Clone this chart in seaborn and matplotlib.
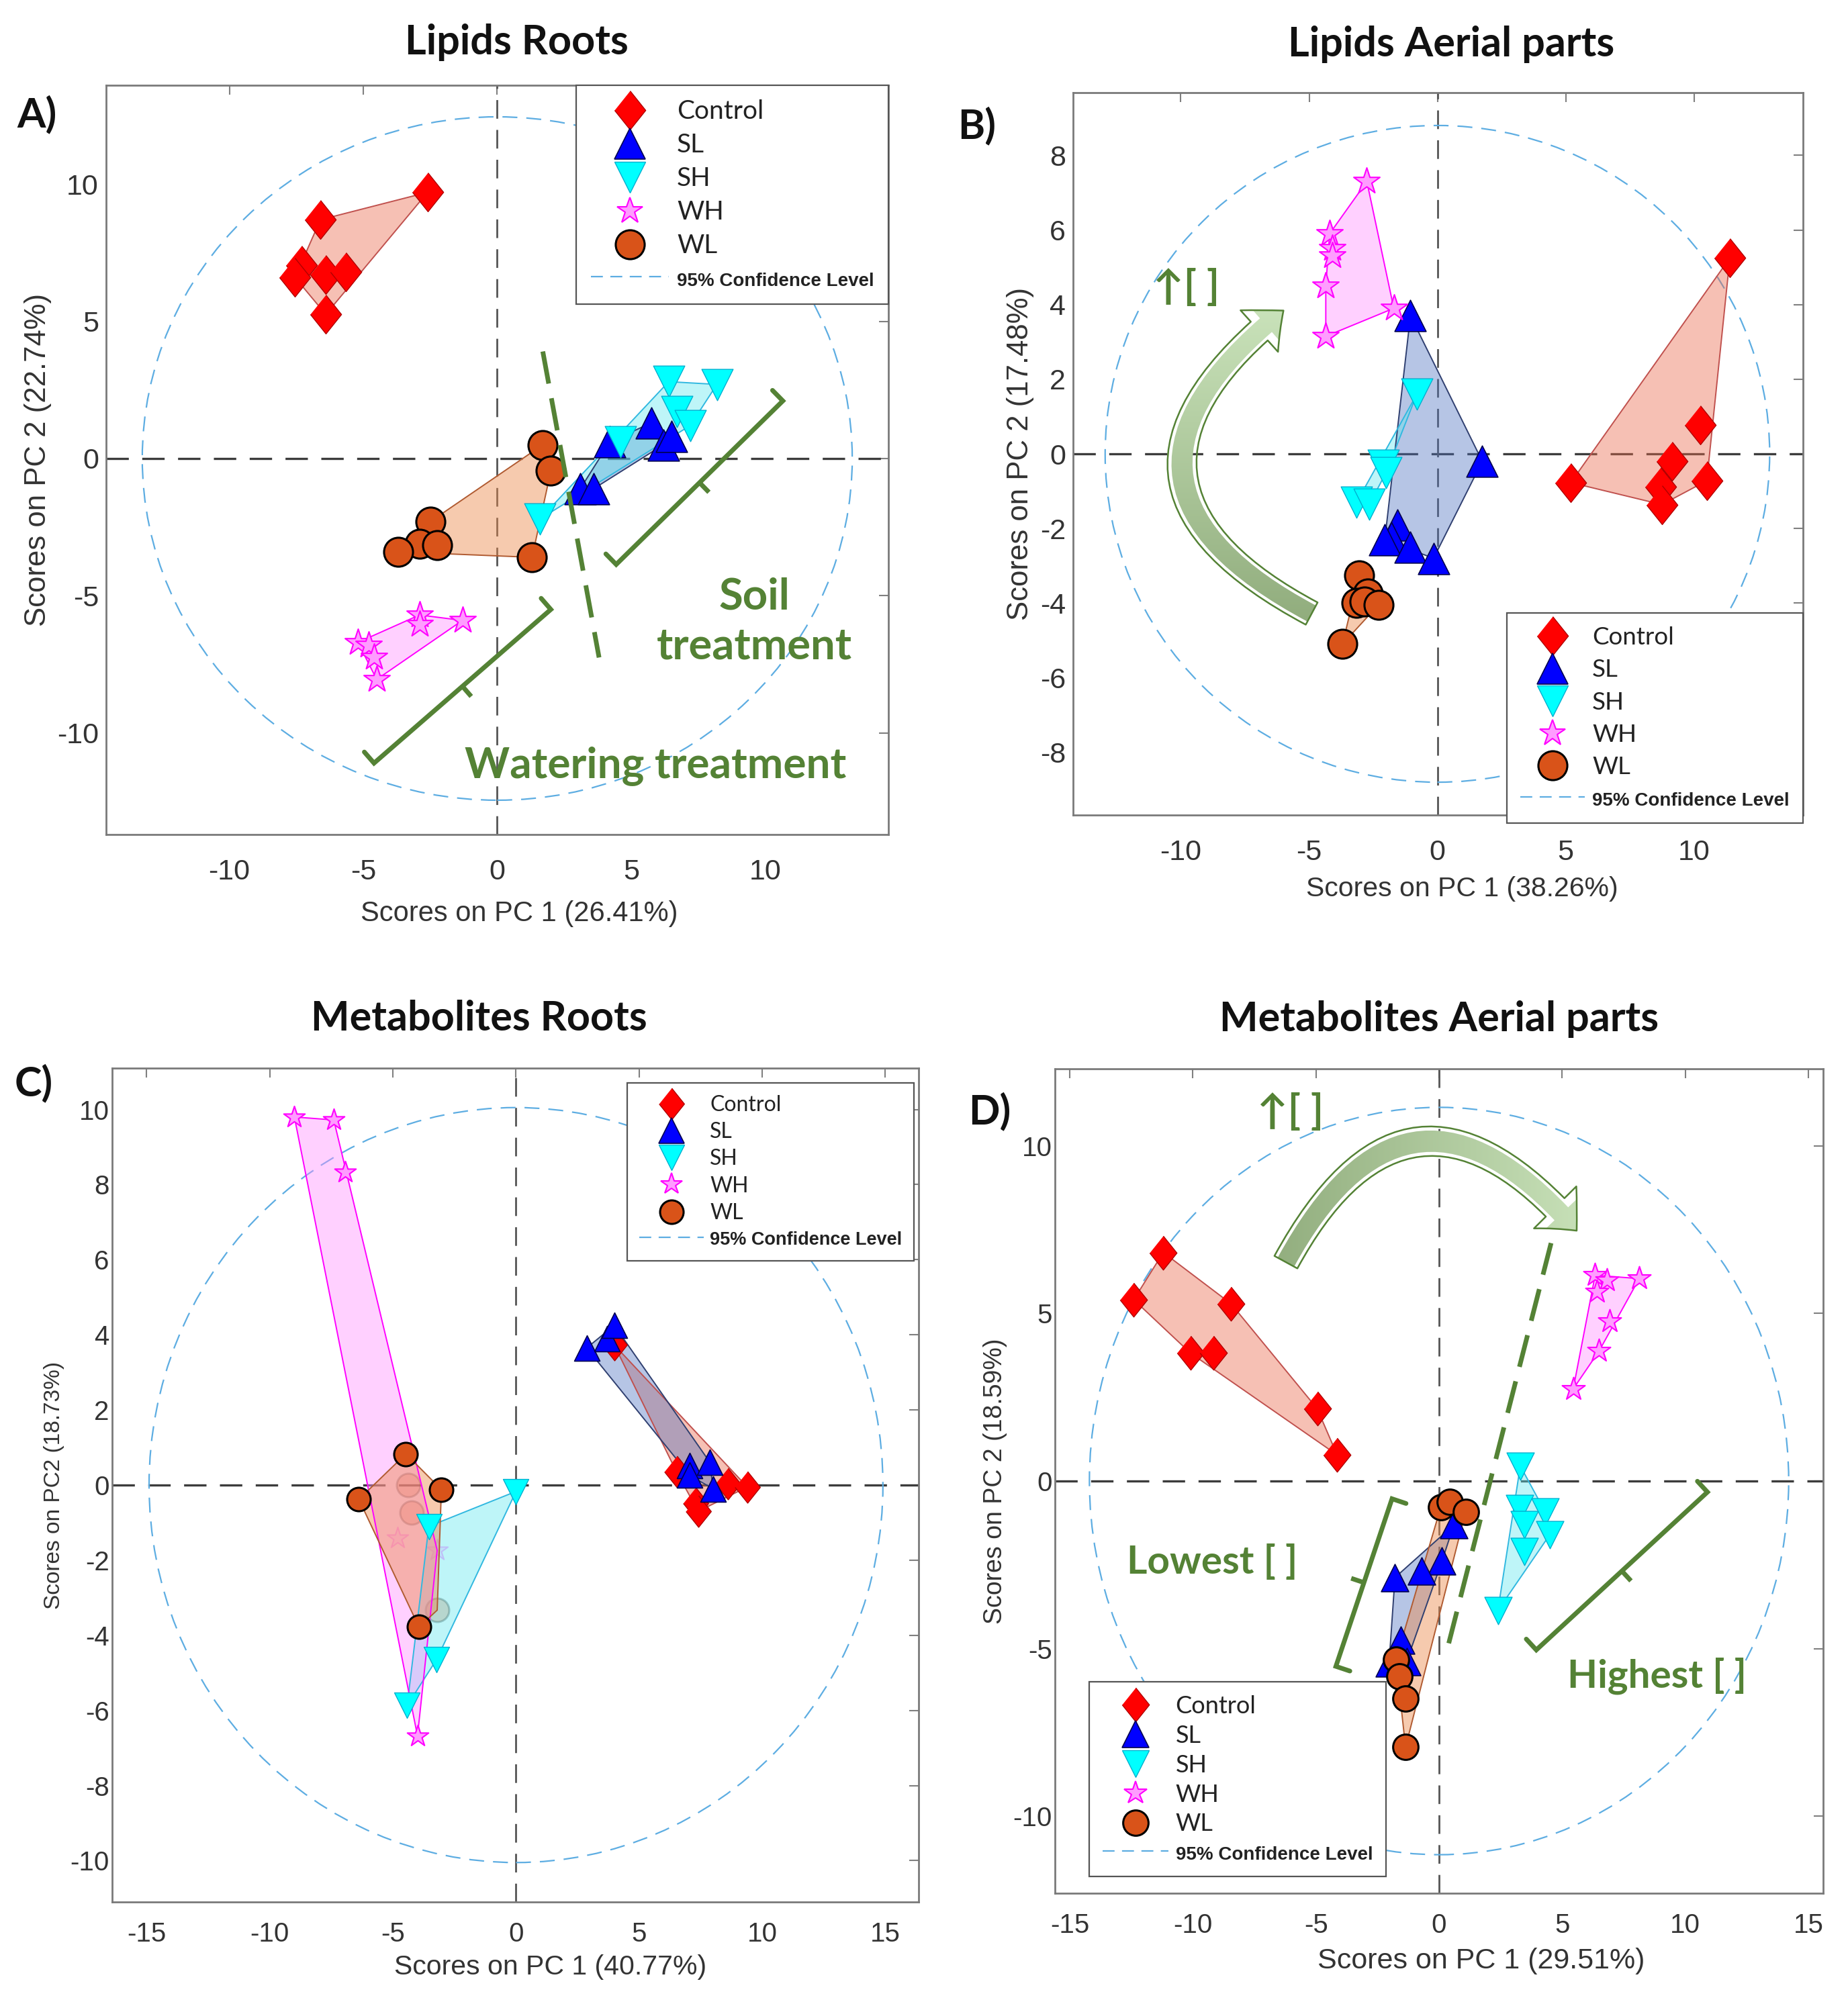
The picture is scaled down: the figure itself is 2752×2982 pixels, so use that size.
import numpy as np
import pandas as pd
import seaborn as sns
import matplotlib.pyplot as plt
from matplotlib.lines import Line2D
from matplotlib.patches import Ellipse, FancyArrowPatch
from matplotlib.colors import LinearSegmentedColormap

groups = ["Control", "SL", "SH", "WH", "WL"]

# A) Lipids Roots  (PC1, PC2 scores)
a_control = [(-2.6, 9.7), (-6.6, 8.7), (-7.3, 7.05), (-7.55, 6.6), (-6.4, 6.7), (-5.65, 6.8), (-6.4, 5.25)]
a_sl = [(3.1, -1.1), (3.6, -1.1), (4.2, 0.6), (5.75, 1.3), (6.2, 0.5), (6.5, 0.8)]
a_sh = [(1.6, -2.2), (4.6, 0.6), (6.4, 2.8), (8.2, 2.7), (6.7, 1.7), (7.2, 1.2)]
a_wh = [(-5.2, -6.7), (-4.8, -6.8), (-4.6, -7.25), (-4.5, -8.05), (-2.9, -5.7), (-2.9, -6.05), (-1.3, -5.9)]
a_wl = [(1.7, 0.5), (2.0, -0.45), (-2.5, -2.3), (-2.9, -3.1), (-2.25, -3.15), (-3.7, -3.4), (1.3, -3.6)]

# B) Lipids Aerial parts
b_control = [(11.4, 5.25), (10.25, 0.77), (9.15, -0.2), (10.5, -0.72), (5.2, -0.77), (8.7, -0.88), (8.75, -1.36)]
b_sl = [(-1.05, 3.7), (1.75, -0.2), (-1.55, -1.9), (-1.8, -2.25), (-2.05, -2.3), (-1.05, -2.5), (-0.15, -2.8)]
b_sh = [(-0.8, 1.6), (-2.1, -0.3), (-2.0, -0.5), (-3.15, -1.3), (-2.65, -1.35)]
b_wh = [(-2.75, 7.3), (-4.2, 5.9), (-4.1, 5.5), (-4.1, 5.3), (-4.35, 4.5), (-1.7, 3.9), (-4.35, 3.15)]
b_wl = [(-3.05, -3.25), (-2.7, -3.75), (-3.15, -4.0), (-2.85, -3.95), (-2.3, -4.05), (-3.7, -5.1)]

# C) Metabolites Roots
c_control = [(3.99, 3.73), (6.52, 0.35), (8.6, 0.03), (9.39, -0.05), (7.29, -0.49), (7.4, -0.7)]
c_sl = [(2.87, 3.65), (3.7, 3.9), (3.99, 4.25), (7.05, 0.52), (7.05, 0.26), (7.88, 0.6), (8.0, -0.1)]
c_sh = [(0.0, -0.17), (-3.54, -1.1), (-3.23, -4.65), (-4.42, -5.87)]
c_wh = [(-9.0, 9.8), (-7.4, 9.72), (-6.95, 8.33), (-4.0, -6.68)]
c_wl = [(-4.47, 0.83), (-3.03, -0.12), (-6.38, -0.38), (-3.94, -3.78)]
# points hidden behind the other groups' patches
c_wh_faded = [(-4.8, -1.42), (-3.2, -1.74)]
c_wl_faded = [(-4.37, 0.0), (-4.23, -0.73), (-3.2, -3.33)]

# D) Metabolites Aerial parts
d_control = [(-11.2, 6.82), (-12.4, 5.41), (-8.45, 5.29), (-10.1, 3.82), (-9.16, 3.82), (-4.95, 2.16), (-4.14, 0.78)]
d_sl = [(0.6, -1.31), (0.12, -2.39), (-0.72, -2.69), (-1.79, -2.88), (-1.56, -4.75), (-2.03, -5.43), (-1.32, -5.39)]
d_sh = [(3.3, 0.45), (3.28, -0.82), (4.31, -0.92), (3.47, -1.31), (4.5, -1.6), (3.47, -2.1), (2.39, -3.86)]
d_wh = [(6.34, 6.14), (6.82, 5.98), (8.13, 6.04), (6.41, 5.65), (6.94, 4.76), (6.5, 3.88), (5.45, 2.75)]
d_wl = [(0.07, -0.78), (0.43, -0.63), (1.08, -0.92), (-1.75, -5.33), (-1.6, -5.82), (-1.36, -6.5), (-1.36, -7.94)]

titles = ["Lipids Roots", "Lipids Aerial parts", "Metabolites Roots", "Metabolites Aerial parts"]
letters = ["A)", "B)", "C)", "D)"]
xlabels = ["Scores on PC 1 (26.41%)", "Scores on PC 1 (38.26%)",
           "Scores on PC 1 (40.77%)", "Scores on PC 1 (29.51%)"]
ylabels = ["Scores on PC 2 (22.74%)", "Scores on PC 2 (17.48%)",
           "Scores on PC2 (18.73%)", "Scores on PC 2 (18.59%)"]
xticks = [[-10, -5, 0, 5, 10], [-10, -5, 0, 5, 10],
          [-15, -10, -5, 0, 5, 10, 15], [-15, -10, -5, 0, 5, 10, 15]]
yticks = [[-10, -5, 0, 5, 10], [-8, -6, -4, -2, 0, 2, 4, 6, 8],
          list(range(-10, 11, 2)), [-10, -5, 0, 5, 10]]
# 95% confidence ellipse semi-axes
ellipse_ab = [(13.25, 12.45), (12.95, 8.8), (14.9, 10.05), (14.2, 11.15)]


def to_frame(pts_by_group, faded_by_group=None):
    rows = []
    for g, pts in pts_by_group.items():
        for x, y in pts:
            rows.append((g, x, y, False))
    for g, pts in (faded_by_group or {}).items():
        for x, y in pts:
            rows.append((g, x, y, True))
    return pd.DataFrame(rows, columns=["group", "x", "y", "faded"])


frames = [
    to_frame({"Control": a_control, "SL": a_sl, "SH": a_sh, "WH": a_wh, "WL": a_wl}),
    to_frame({"Control": b_control, "SL": b_sl, "SH": b_sh, "WH": b_wh, "WL": b_wl}),
    to_frame({"Control": c_control, "SL": c_sl, "SH": c_sh, "WH": c_wh, "WL": c_wl},
             {"WH": c_wh_faded, "WL": c_wl_faded}),
    to_frame({"Control": d_control, "SL": d_sl, "SH": d_sh, "WH": d_wh, "WL": d_wl}),
]

sns.set_theme(style="white")
plt.rcParams["font.family"] = ["Liberation Sans", "DejaVu Sans"]
plt.rcParams["axes.unicode_minus"] = False

GREEN = "#548235"
ELL = "#5dade2"
DIAMOND = [(0, 1), (0.8, 0), (0, -1), (-0.8, 0)]
mk = {
    "Control": dict(marker=DIAMOND, face="#ff0000", edge="#b00000", lw=1.0, rel=1.3),
    "SL": dict(marker="^", face="#0000ff", edge="#000050", lw=1.2, rel=1.05),
    "SH": dict(marker="v", face="#00ffff", edge="#00b0d0", lw=1.0, rel=1.05),
    "WH": dict(marker="*", face="#ff9cff", edge="#ff00ff", lw=1.5, rel=0.92),
    "WL": dict(marker="o", face="#d95319", edge="#000000", lw=2.2, rel=0.97),
}
hull_style = {
    "Control": ("#ea6a4c", 0.42, "#c0504d"),
    "SL": ("#4a6fbf", 0.4, "#2f3f70"),
    "SH": ("#5ee8ee", 0.4, "#30b8e0"),
    "WH": ("#ff90ff", 0.42, "#ff00ff"),
    "WL": ("#ec8a4c", 0.45, "#b05a30"),
}


def hull(pts):
    p = sorted(set(map(tuple, pts)))
    if len(p) < 3:
        return p

    def cross(o, a, b):
        return (a[0] - o[0]) * (b[1] - o[1]) - (a[1] - o[1]) * (b[0] - o[0])
    lower, upper = [], []
    for q in p:
        while len(lower) >= 2 and cross(lower[-2], lower[-1], q) <= 0:
            lower.pop()
        lower.append(q)
    for q in reversed(p):
        while len(upper) >= 2 and cross(upper[-2], upper[-1], q) <= 0:
            upper.pop()
        upper.append(q)
    return lower[:-1] + upper[:-1]


def bracket(ax, p1, p2, side=1, hook=22, tick=20):
    t = ax.transData
    a, b = t.transform(p1), t.transform(p2)
    d = (b - a) / np.hypot(*(b - a))
    n = np.array([-d[1], d[0]]) * side
    m = (a + b) / 2
    inv = t.inverted()
    main = inv.transform(np.array([a + n * hook, a, b, b + n * hook]))
    mid = inv.transform(np.array([m, m - n * tick]))
    ax.plot(main[:, 0], main[:, 1], color=GREEN, lw=5, solid_joinstyle="miter", zorder=6)
    ax.plot(mid[:, 0], mid[:, 1], color=GREEN, lw=5, solid_capstyle="butt", zorder=6)


def curved_arrow(ax, start, end, rad, extent, horizontal, head_w=60, tail_w=27):
    arrow = FancyArrowPatch(start, end, connectionstyle=f"arc3,rad={rad}",
                            arrowstyle=f"simple,head_length=34,head_width={head_w},tail_width={tail_w}",
                            facecolor="none", edgecolor=GREEN, lw=1.8, zorder=3.1,
                            shrinkA=0, shrinkB=0)
    ax.add_patch(arrow)
    g = np.linspace(0, 1, 256)
    img = g[None, :] if horizontal else g[:, None]
    cmap = LinearSegmentedColormap.from_list("arrowgreen", ["#8fab7b", "#cce5bd"])
    im = ax.imshow(img, extent=extent, origin="lower", cmap=cmap, aspect="auto",
                   interpolation="bilinear", zorder=3)
    im.set_clip_path(arrow)


fig = plt.figure(figsize=(27.52, 29.82), dpi=100)
W, H = 2752, 2982
boxes = [(158, 127, 1323, 1243), (1598, 138, 2685, 1214),
         (167, 1591, 1368, 2833), (1571, 1592, 2715, 2820)]
limits = [((-14.6, 14.6), (-13.7, 13.6)), ((-14.2, 14.25), (-9.68, 9.68)),
          ((-16.4, 16.35), (-11.1, 11.1)), ((-15.6, 15.6), (-12.3, 12.3))]
base_pt = [32, 32, 26, 28]
tick_fs = [31, 31, 29, 29]
xlab_fs = [30, 29.5, 29.5, 31]
ylab_fs = [31.5, 31.5, 24, 27]
xlab_shift = [0.528, 0.533, 0.543, 0.555]
xtick_pad = [26, 26, 21, 21]
xlab_pad = [16, 11, 8, 10]
leg_fs = [28, 26.5, 23, 26]
leg_small = [20, 20, 19.5, 20]
leg_hl = [3.0, 2.6, 3.0, 2.7]
leg_ls = [0.36, 0.41, 0.32, 0.3]
leg_loc = [dict(loc="upper right", bbox_to_anchor=(1, 1)),
           dict(loc="lower right", bbox_to_anchor=(1, -0.011)),
           dict(loc="upper right", bbox_to_anchor=(0.994, 0.982)),
           dict(loc="lower left", bbox_to_anchor=(0.045, 0.02))]
title_xy = [(769, 63), (2161, 66), (713, 1517), (2143, 1518)]
letter_xy = [(25, 170), (1426, 187), (22, 1613), (1442, 1655)]

axes = []
for i in range(4):
    l, t, r, b = boxes[i]
    ax = fig.add_axes([l / W, 1 - b / H, (r - l) / W, (b - t) / H])
    axes.append(ax)
    df = frames[i]
    ax.set_xlim(*limits[i][0])
    ax.set_ylim(*limits[i][1])

    ax.axhline(0, color="#3c3c3c", lw=2.4, ls=(0, (10, 6)), zorder=1)
    ax.axvline(0, color="#555555", lw=2.0, ls=(0, (10, 6)), zorder=1)
    ea, eb = ellipse_ab[i]
    ax.add_patch(Ellipse((0, 0), 2 * ea, 2 * eb, fill=False, edgecolor=ELL,
                         lw=1.6, ls=(0, (10, 6)), zorder=1.2))

    for g in groups:
        sub = df[df.group == g]
        hp = np.array(hull(sub[["x", "y"]].values))
        fc, al, ec = hull_style[g]
        ax.fill(hp[:, 0], hp[:, 1], facecolor=fc, alpha=al, zorder=2)
        ax.fill(hp[:, 0], hp[:, 1], facecolor="none", edgecolor=ec, lw=1.4, zorder=2.1)

    for g in groups:
        st = mk[g]
        size = (base_pt[i] * st["rel"]) ** 2
        for faded, alpha, z in [(True, 0.3, 1.9), (False, 1.0, 4)]:
            sub = df[(df.group == g) & (df.faded == faded)]
            if len(sub) == 0:
                continue
            sns.scatterplot(data=sub, x="x", y="y", marker=st["marker"], s=size,
                            color=st["face"], edgecolor=st["edge"], linewidth=st["lw"],
                            alpha=alpha, zorder=z, legend=False, ax=ax)

    ax.set_xticks(xticks[i])
    ax.set_yticks(yticks[i])
    ax.set_xlim(*limits[i][0])
    ax.set_ylim(*limits[i][1])
    ax.tick_params(direction="in", top=True, right=True, length=10, width=1.5,
                   color="#808080", labelcolor="#333333", labelsize=tick_fs[i])
    ax.tick_params(axis="x", pad=xtick_pad[i])
    ax.tick_params(axis="y", pad=8 if i < 2 else 3)
    for sp in ax.spines.values():
        sp.set_color("#7a7a7a")
        sp.set_linewidth(2)
    ax.set_xlabel(xlabels[i], fontsize=xlab_fs[i], color="#333333", labelpad=xlab_pad[i])
    ax.xaxis.label.set_x(xlab_shift[i])
    ax.set_ylabel(ylabels[i], fontsize=ylab_fs[i], color="#333333", labelpad=6)

    handles = []
    for g in groups:
        st = mk[g]
        handles.append(Line2D([], [], ls="none", marker=st["marker"],
                              markersize=base_pt[i] * st["rel"],
                              markerfacecolor=st["face"], markeredgecolor=st["edge"],
                              markeredgewidth=st["lw"]))
    handles.append(Line2D([], [], color=ELL, lw=1.6, ls=(0, (8, 5))))
    leg = ax.legend(handles, groups + ["95% Confidence Level"],
                    prop={"family": ["Lato", "DejaVu Sans"], "size": leg_fs[i]},
                    frameon=True, fancybox=False, framealpha=1, edgecolor="#555555",
                    handlelength=leg_hl[i], handletextpad=0.3, borderpad=0.55,
                    labelspacing=leg_ls[i], borderaxespad=0, **leg_loc[i])
    leg.get_frame().set_linewidth(1.6)
    leg.set_zorder(10)
    for txt in leg.get_texts():
        txt.set_color("#222222")
    last = leg.get_texts()[-1]
    last.set_fontfamily(["Liberation Sans", "DejaVu Sans"])
    last.set_fontweight("bold")
    last.set_fontsize(leg_small[i])

    fig.text(title_xy[i][0] / W, 1 - title_xy[i][1] / H, titles[i], ha="center", va="center",
             fontsize=44, fontweight="bold", family="Lato", color="#111111")
    fig.text(letter_xy[i][0] / W, 1 - letter_xy[i][1] / H, letters[i], ha="left", va="center",
             fontsize=44, fontweight="bold", family="Lato", color="#111111")

green_txt = dict(color=GREEN, fontweight="bold", family=["Lato", "DejaVu Sans"],
                 ha="center", va="center", zorder=7)
arrow_txt = dict(color=GREEN, fontweight="bold", family=["Lato", "DejaVu Sans"], fontsize=44,
                 ha="center", va="center", zorder=7)

# A) annotations
ax = axes[0]
ax.plot([1.7, 3.8], [3.9, -7.25], color=GREEN, lw=5, ls=(0, (7, 3.2)), zorder=6)
bracket(ax, (4.44, -3.86), (10.66, 2.1), side=1)
bracket(ax, (-4.6, -11.1), (2.0, -5.5), side=1)
ax.text(9.6, -5.95, "Soil\ntreatment", fontsize=47, linespacing=1.3, **green_txt)
ax.text(5.9, -11.2, "Watering treatment", fontsize=46, **green_txt)

# B) annotations
ax = axes[1]
curved_arrow(ax, (-4.9, -4.28), (-6.0, 3.84), -0.76, (-11, -4, -4.8, 4.3), horizontal=False)
ax.text(-9.8, 4.45, "\u2191[ ]", **arrow_txt)
ax.set_xlim(*limits[1][0])
ax.set_ylim(*limits[1][1])

# D) annotations
ax = axes[3]
curved_arrow(ax, (-6.22, 6.53), (5.59, 7.47), -0.72, (-7.5, 7.0, 5.5, 11.5), horizontal=True,
             head_w=64, tail_w=28)
ax.text(-6.05, 11.0, "\u2191[ ]", **arrow_txt)
ax.plot([4.55, 0.36], [7.1, -4.94], color=GREEN, lw=5, ls=(0, (7, 3.2)), zorder=6)
bracket(ax, (-4.19, -5.53), (-1.91, -0.53), side=-1)
bracket(ax, (3.95, -5.04), (10.9, -0.33), side=1)
ax.text(-9.2, -2.43, "Lowest [ ]", fontsize=42, **green_txt)
ax.text(8.85, -5.82, "Highest [ ]", fontsize=42, **green_txt)
ax.set_xlim(*limits[3][0])
ax.set_ylim(*limits[3][1])

fig.savefig("out.png", dpi=100, facecolor="white")
